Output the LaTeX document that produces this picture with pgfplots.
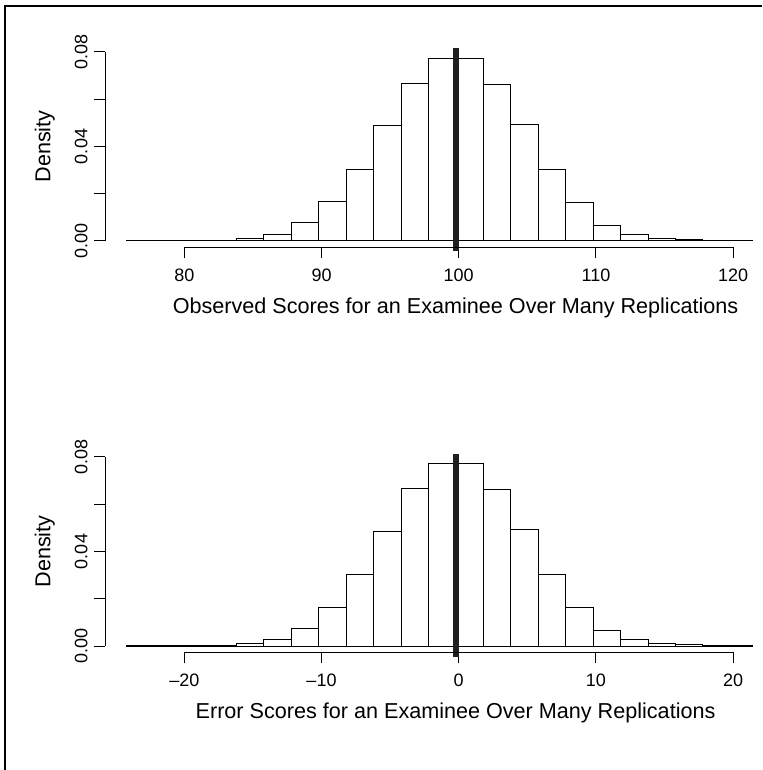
\documentclass[border=0pt]{standalone}
\usepackage{pgfplots}
\pgfplotsset{compat=1.18}
\usepackage{fontspec}
\setmainfont{Liberation Sans}
\newcommand{\tickfont}{\fontsize{18}{18}\selectfont}
\newcommand{\labfont}{\fontsize{21.6}{22}\selectfont}
\begin{document}
\begin{tikzpicture}
\useasboundingbox (0,0) rectangle (762pt,770pt);
\draw[line width=2pt] (5pt,0pt) -- (5pt,764pt) -- (762pt,764pt);
\pgfplotsset{hist/.style={
  scale only axis, width=648.7pt, height=203.77pt, clip=false,
  axis x line*=bottom, axis y line*=left,
  x axis line style={draw=none}, y axis line style={draw=none},
  ymin=-0.00275, ymax=0.0835,
  ytick={0,0.02,0.04,0.06,0.08}, yticklabels={}, xticklabels={},
  scaled y ticks=false, scaled x ticks=false,
  tick align=outside, major tick length=11pt,
  tick style={black, line width=1pt},
  minor tick num=0,
}}
% ---------------- top panel ----------------
\begin{axis}[hist, at={(105pt,522.5pt)}, anchor=south west,
  xmin=74.22, xmax=121.5, xtick={80,90,100,110,120}]
\addplot[ybar interval, fill=white, draw=black, line width=1pt] table {
x y
75.8 0.0002
77.8 0.0002
79.8 0.0002
81.8 0.0004
83.8 0.0010
85.8 0.0028
87.8 0.0077
89.8 0.0166
91.8 0.0303
93.8 0.0488
95.8 0.0666
97.8 0.0772
99.8 0.0771
101.8 0.0663
103.8 0.0494
105.8 0.0303
107.8 0.0164
109.8 0.0066
111.8 0.0027
113.8 0.0011
115.8 0.0005
117.8 0.0002
119.8 0.0002
121.4 0.0002
};
\addplot[line width=6pt, color=black!88, line cap=butt] coordinates {(99.8,-0.0043) (99.8,0.0816)};
\draw[line width=1pt] (axis cs:80,-0.00275) -- (axis cs:120,-0.00275);
\draw[line width=1pt] (axis cs:74.22,0) -- (axis cs:74.22,0.08);
\node[font=\tickfont, anchor=base, inner sep=0pt] at ([yshift=-34.2pt]axis cs:80,-0.00275) {80};
\node[font=\tickfont, anchor=base, inner sep=0pt] at ([yshift=-34.2pt]axis cs:90,-0.00275) {90};
\node[font=\tickfont, anchor=base, inner sep=0pt] at ([yshift=-34.2pt]axis cs:100,-0.00275) {100};
\node[font=\tickfont, anchor=base, inner sep=0pt] at ([yshift=-34.2pt]axis cs:110,-0.00275) {110};
\node[font=\tickfont, anchor=base, inner sep=0pt] at ([yshift=-34.2pt]axis cs:120,-0.00275) {120};
\node[font=\tickfont, rotate=90, anchor=base, inner sep=0pt] at ([xshift=-17.7pt]axis cs:74.22,0) {0.00};
\node[font=\tickfont, rotate=90, anchor=base, inner sep=0pt] at ([xshift=-17.7pt]axis cs:74.22,0.04) {0.04};
\node[font=\tickfont, rotate=90, anchor=base, inner sep=0pt] at ([xshift=-17.7pt]axis cs:74.22,0.08) {0.08};
\node[font=\labfont, rotate=90, anchor=base, inner sep=0pt] at ([xshift=-54.5pt]axis cs:74.22,0.04) {Density};
\node[font=\labfont, anchor=base, inner sep=0pt] at ([yshift=-66pt]axis cs:99.77,-0.00275) {Observed Scores for an Examinee Over Many Replications};
\end{axis}
% ---------------- bottom panel ----------------
\begin{axis}[hist, at={(105pt,117.5pt)}, anchor=south west,
  xmin=-25.78, xmax=21.5, xtick={-20,-10,0,10,20}]
\addplot[ybar interval, fill=white, draw=black, line width=1pt] table {
x y
-24.2 0.0002
-22.2 0.0002
-20.2 0.0002
-18.2 0.0004
-16.2 0.0011
-14.2 0.0028
-12.2 0.0075
-10.2 0.0165
-8.2 0.0303
-6.2 0.0486
-4.2 0.0665
-2.2 0.0772
-0.2 0.0771
1.8 0.0662
3.8 0.0492
5.8 0.0303
7.8 0.0164
9.8 0.0066
11.8 0.0027
13.8 0.0011
15.8 0.0005
17.8 0.0002
19.8 0.0002
21.4 0.0002
};
\addplot[line width=6pt, color=black!88, line cap=butt] coordinates {(-0.2,-0.0045) (-0.2,0.0814)};
\draw[line width=1pt] (axis cs:-20,-0.00275) -- (axis cs:20,-0.00275);
\draw[line width=1pt] (axis cs:-25.78,0) -- (axis cs:-25.78,0.08);
\node[font=\tickfont, anchor=base, inner sep=0pt] at ([yshift=-34.2pt]axis cs:-20,-0.00275) {\textendash20};
\node[font=\tickfont, anchor=base, inner sep=0pt] at ([yshift=-34.2pt]axis cs:-10,-0.00275) {\textendash10};
\node[font=\tickfont, anchor=base, inner sep=0pt] at ([yshift=-34.2pt]axis cs:0,-0.00275) {0};
\node[font=\tickfont, anchor=base, inner sep=0pt] at ([yshift=-34.2pt]axis cs:10,-0.00275) {10};
\node[font=\tickfont, anchor=base, inner sep=0pt] at ([yshift=-34.2pt]axis cs:20,-0.00275) {20};
\node[font=\tickfont, rotate=90, anchor=base, inner sep=0pt] at ([xshift=-17.7pt]axis cs:-25.78,0) {0.00};
\node[font=\tickfont, rotate=90, anchor=base, inner sep=0pt] at ([xshift=-17.7pt]axis cs:-25.78,0.04) {0.04};
\node[font=\tickfont, rotate=90, anchor=base, inner sep=0pt] at ([xshift=-17.7pt]axis cs:-25.78,0.08) {0.08};
\node[font=\labfont, rotate=90, anchor=base, inner sep=0pt] at ([xshift=-54.5pt]axis cs:-25.78,0.04) {Density};
\node[font=\labfont, anchor=base, inner sep=0pt] at ([yshift=-66pt]axis cs:-0.23,-0.00275) {Error Scores for an Examinee Over Many Replications};
\end{axis}
\end{tikzpicture}
\end{document}
